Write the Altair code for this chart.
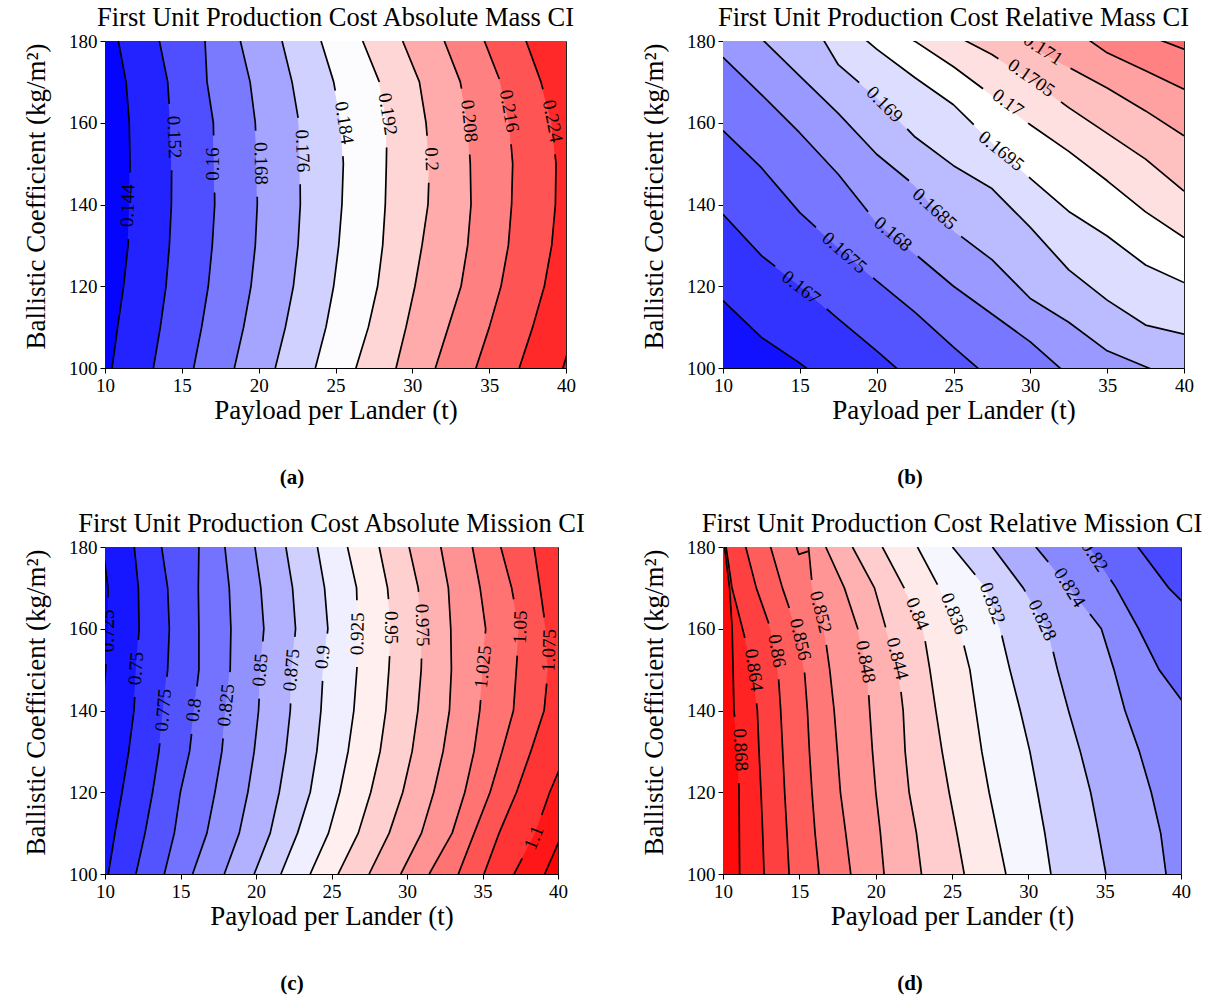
import math
import altair as alt
import pandas as pd

FONT = "Liberation Serif"
LABEL_FS = 19

ROWS = [180, 170, 160, 150, 140, 130, 120, 110, 100]
B_COLS = [10, 12.5, 15, 17.5, 20, 22.5, 25, 27.5, 30, 32.5, 35, 37.5, 40]

X_TITLE = "Payload per Lander (t)"
Y_TITLE = "Ballistic Coefficient (kg/m²)"

# ---------------- (a) ----------------
A_TITLE = "First Unit Production Cost Absolute Mass CI"
A_LEVELS = [0.144, 0.152, 0.16, 0.168, 0.176, 0.184, 0.192, 0.2, 0.208, 0.216, 0.224, 0.232]
A_X = [
    [10.87, 11.37, 11.58, 11.63, 11.61, 11.50, 11.21, 10.82, 10.46],
    [13.54, 14.08, 14.25, 14.34, 14.32, 14.19, 13.97, 13.60, 13.15],
    [16.51, 16.64, 17.05, 17.11, 17.14, 16.98, 16.72, 16.29, 15.77],
    [18.81, 19.44, 19.78, 19.89, 19.91, 19.78, 19.50, 19.02, 18.42],
    [21.52, 22.17, 22.62, 22.69, 22.71, 22.56, 22.26, 21.74, 21.08],
    [24.06, 24.88, 25.36, 25.51, 25.42, 25.21, 24.88, 24.38, 23.69],
    [26.77, 27.85, 28.35, 28.31, 28.24, 28.07, 27.74, 27.14, 26.33],
    [29.37, 30.46, 30.89, 31.11, 31.02, 30.63, 30.17, 29.59, 28.94],
    [32.08, 33.12, 33.60, 33.77, 33.82, 33.60, 33.17, 32.34, 31.50],
    [34.69, 35.73, 36.31, 36.53, 36.46, 36.25, 35.77, 35.01, 34.14],
    [37.40, 38.37, 39.07, 39.35, 39.31, 39.07, 38.59, 37.83, 36.96],
    [43.0, 43.0, 43.0, 43.0, 43.0, 42.5, 42.0, 40.6, 39.8],
]
A_LABELS = [
    ("0.144", 11.48, 139.7, 272), ("0.152", 14.51, 156.5, 88), ("0.16", 17.01, 149.9, 270),
    ("0.168", 20.15, 150.0, 89), ("0.176", 22.86, 153.1, 88), ("0.184", 25.57, 160.0, 81),
    ("0.192", 28.40, 162.1, 81), ("0.2", 31.26, 151.1, 88), ("0.208", 33.71, 160.4, 84),
    ("0.216", 36.31, 162.9, 80), ("0.224", 39.13, 160.4, 79),
]
A_COLOR = [0.1415, 0.1885, 0.2355]
A_EDGES = [0.1425, 0.2328]

# ---------------- (b) ----------------
B_TITLE = "First Unit Production Cost Relative Mass CI"
B_LEVELS = [0.1665, 0.167, 0.1675, 0.168, 0.1685, 0.169, 0.1695, 0.17, 0.1705, 0.171, 0.1715, 0.172]
B_Y = [
    [116.5, 107.5, 101.2, 94.0, 87.0, 80.0, 73.0, 66.0, 59.0, 52.0, 45.0, 38.0, 31.0],
    [137.6, 127.5, 120.1, 112.0, 104.2, 96.0, 88.0, 80.0, 72.0, 64.0, 56.0, 48.0, 40.0],
    [158.1, 149.0, 138.0, 129.5, 121.3, 113.6, 105.1, 97.0, 89.0, 81.0, 73.0, 65.0, 57.0],
    [176.0, 166.9, 157.5, 147.4, 135.6, 127.9, 120.0, 113.2, 106.4, 98.1, 90.0, 82.0, 74.0],
    [192.0, 180.6, 171.4, 162.3, 152.3, 144.6, 133.6, 126.5, 117.0, 111.2, 104.2, 100.3, 96.5],
    [210.0, 200.0, 190.0, 174.2, 166.2, 156.5, 149.5, 143.9, 134.4, 124.0, 116.6, 110.5, 108.3],
    [215.0, 205.0, 195.0, 186.0, 178.0, 171.0, 164.4, 155.2, 146.4, 138.3, 132.3, 125.2, 120.9],
    [225.0, 215.0, 205.0, 191.0, 185.0, 179.9, 173.7, 166.7, 159.5, 153.0, 145.8, 138.2, 131.9],
    [235.0, 225.0, 215.0, 205.0, 195.0, 188.0, 181.6, 176.7, 170.6, 163.7, 157.4, 151.1, 143.3],
    [245.0, 235.0, 225.0, 215.0, 205.0, 198.0, 192.6, 186.9, 178.8, 173.6, 168.5, 162.9, 156.8],
    [255.0, 245.0, 235.0, 225.0, 215.0, 205.0, 198.0, 193.0, 189.0, 183.7, 177.1, 172.7, 168.2],
    [265.0, 255.0, 245.0, 235.0, 225.0, 215.0, 205.0, 198.0, 193.0, 189.5, 186.0, 181.6, 178.0],
]
B_LABELS = [
    ("0.167", 15.08, 119.7, 37.5), ("0.1675", 17.90, 128.2, 41), ("0.168", 21.06, 132.8, 40),
    ("0.1685", 23.77, 138.9, 42), ("0.169", 20.51, 164.5, 45), ("0.1695", 28.11, 153.1, 39),
    ("0.17", 28.55, 164.9, 36), ("0.1705", 30.07, 171.0, 35), ("0.171", 30.83, 178.0, 33),
]
B_COLOR = [0.1660, 0.16975, 0.1738]
B_EDGES = [0.16625, 0.17215]

# ---------------- (c) ----------------
C_TITLE = "First Unit Production Cost Absolute Mission CI"
C_LEVELS = [0.725, 0.75, 0.775, 0.8, 0.825, 0.85, 0.875, 0.9, 0.925, 0.95, 0.975,
            1.0, 1.025, 1.05, 1.075, 1.1, 1.125]
C_X = [
    [9.85, 10.2, 10.22, 10.04, 9.8, 9.6, 9.4, 9.2, 9.0],
    [11.94, 12.21, 12.26, 12.07, 11.92, 11.57, 11.13, 10.66, 10.22],
    [13.75, 14.15, 14.26, 14.15, 13.86, 13.57, 13.15, 12.65, 12.05],
    [16.22, 16.18, 16.22, 16.22, 15.91, 15.60, 14.99, 14.59, 13.93],
    [17.94, 18.23, 18.34, 18.29, 17.99, 17.74, 17.28, 16.75, 15.80],
    [19.93, 20.32, 20.52, 20.30, 20.17, 19.88, 19.46, 18.89, 17.90],
    [21.98, 22.42, 22.62, 22.38, 22.27, 21.98, 21.54, 20.94, 19.88],
    [24.07, 24.54, 24.76, 24.45, 24.30, 24.03, 23.59, 22.75, 21.65],
    [26.06, 26.66, 26.74, 26.68, 26.48, 26.10, 25.55, 24.80, 23.59],
    [28.16, 28.71, 28.95, 28.80, 28.60, 28.22, 27.60, 26.77, 25.44],
    [30.14, 30.74, 31.02, 30.94, 30.72, 30.34, 29.72, 28.82, 27.49],
    [32.24, 32.74, 32.90, 32.94, 32.81, 32.39, 31.77, 30.96, 29.59],
    [34.33, 34.84, 35.21, 35.04, 34.82, 34.44, 33.83, 32.99, 31.47],
    [36.21, 36.93, 37.42, 37.24, 37.05, 36.30, 35.50, 34.45, 33.40],
    [38.41, 38.81, 39.19, 39.34, 39.08, 38.20, 37.25, 36.10, 35.10],
    [42.5, 42.3, 42.1, 41.8, 41.3, 40.6, 39.45, 38.5, 37.09],
    [44.0, 44.0, 44.0, 44.0, 43.5, 43.0, 42.0, 40.3, 39.12],
]
C_LABELS = [
    ("0.725", 10.22, 159.5, 270), ("0.75", 12.05, 150.3, 274), ("0.775", 13.86, 140.1, 275),
    ("0.8", 15.87, 140.1, 277), ("0.825", 18.01, 141.3, 276), ("0.85", 20.28, 149.9, 275),
    ("0.875", 22.35, 149.9, 275), ("0.9", 24.41, 153.1, 276), ("0.925", 26.72, 158.8, 271),
    ("0.95", 28.97, 160.3, 90), ("0.975", 31.02, 160.9, 88), ("1.025", 35.04, 150.7, 276),
    ("1.05", 37.50, 160.4, 272), ("1.075", 39.41, 154.7, 272), ("1.1", 38.41, 108.9, 292),
]
C_COLOR = [0.72, 0.925, 1.13]
C_EDGES = [0.7225, 1.128]

# ---------------- (d) ----------------
D_TITLE = "First Unit Production Cost Relative Mission CI"
D_LEVELS = [0.868, 0.864, 0.86, 0.856, 0.852, 0.848, 0.844, 0.84, 0.836, 0.832,
            0.828, 0.824, 0.82, 0.816]
D_X = [
    [10.10, 10.43, 10.60, 10.66, 10.72, 11.00, 11.05, 11.07, 11.09],
    [10.20, 10.59, 11.28, 11.95, 12.25, 12.36, 12.49, 12.60, 12.69],
    [11.49, 12.18, 13.12, 13.60, 13.78, 13.91, 14.04, 14.19, 14.33],
    [13.12, 13.89, 14.81, 15.33, 15.53, 15.66, 15.83, 16.03, 16.29],
    [15.60, 15.86, 16.62, 16.99, 17.28, 17.49, 17.69, 18.04, 18.37],
    [16.73, 17.95, 18.83, 19.44, 19.61, 19.79, 20.01, 20.31, 20.55],
    [18.48, 19.92, 20.68, 21.49, 21.80, 21.93, 22.19, 22.67, 23.00],
    [20.44, 21.86, 23.11, 23.55, 23.94, 24.35, 24.81, 25.32, 25.80],
    [22.74, 24.16, 25.51, 26.17, 26.56, 26.95, 27.43, 27.98, 28.53],
    [25.03, 27.22, 28.16, 28.79, 29.47, 30.10, 30.60, 31.08, 31.48],
    [27.65, 29.66, 31.26, 31.91, 32.63, 33.40, 34.08, 34.60, 35.08],
    [30.49, 32.72, 34.78, 35.61, 36.33, 37.27, 38.05, 38.67, 39.02],
    [34.01, 35.74, 37.22, 38.56, 40.54, 42.0, 43.5, 45.0, 46.5],
    [37.18, 39.19, 41.86, 44.0, 46.0, 48.0, 50.0, 52.0, 54.0],
]
D_ZIG_X = [14.81, 14.96, 15.61]
D_ZIG_Y = [180.0, 178.2, 179.0]
D_LABELS = [
    ("0.868", 11.15, 130.4, 87), ("0.864", 12.03, 149.9, 82), ("0.86", 13.54, 154.6, 80),
    ("0.856", 15.07, 157.4, 77), ("0.852", 16.40, 164.1, 76), ("0.848", 19.35, 151.9, 80),
    ("0.844", 21.43, 152.7, 76), ("0.84", 22.74, 163.7, 68), ("0.836", 25.14, 163.7, 68),
    ("0.832", 27.65, 166.2, 70), ("0.828", 30.93, 162.1, 65), ("0.824", 32.70, 170.1, 58),
    ("0.82", 34.34, 177.8, 57),
]
D_COLOR = [0.807, 0.835, 0.871]
D_EDGES = [0.8695, 0.815]

CAPTIONS = ["(a)", "(b)", "(c)", "(d)"]


def label_len_px(t):
    return LABEL_FS * (0.5 * sum(c.isdigit() for c in t) + 0.25 * t.count("."))


def cut_polyline(pts, cx, cy, r):
    """Remove the part of a pixel polyline that lies within radius r of (cx, cy)."""
    out, cur = [], []

    def push(p):
        if not cur or abs(cur[-1][0] - p[0]) > 1e-9 or abs(cur[-1][1] - p[1]) > 1e-9:
            cur.append(p)

    for i in range(len(pts) - 1):
        P, Q = pts[i], pts[i + 1]
        dx, dy = Q[0] - P[0], Q[1] - P[1]
        fx, fy = P[0] - cx, P[1] - cy
        a = dx * dx + dy * dy
        b = 2 * (fx * dx + fy * dy)
        c = fx * fx + fy * fy - r * r
        disc = b * b - 4 * a * c
        if a == 0 or disc <= 0:
            intervals = [(0.0, 1.0)]
        else:
            s = math.sqrt(disc)
            t1, t2 = (-b - s) / (2 * a), (-b + s) / (2 * a)
            intervals = []
            if t1 > 0:
                intervals.append((0.0, min(t1, 1.0)))
            if t2 < 1:
                intervals.append((max(t2, 0.0), 1.0))
        for ta, tb in intervals:
            if ta > 0 and cur:
                out.append(cur)
                cur = []
            push((P[0] + ta * dx, P[1] + ta * dy))
            push((P[0] + tb * dx, P[1] + tb * dy))
            if tb < 1:
                out.append(cur)
                cur = []
    if cur:
        out.append(cur)
    return [s for s in out if len(s) >= 2]


def panel(kind, levels, lines, labels, cdom, edges, extras, W, H, title, cap):
    sx, sy = W / 30.0, H / 80.0

    def to_px(x, y):
        return ((x - 10) * sx, (180 - y) * sy)

    def from_px(px, py):
        return (10 + px / sx, 180 - py / sy)

    n = len(ROWS) if kind == "rows" else len(B_COLS)
    if kind == "rows":
        low, high = [-10.0] * n, [70.0] * n
    else:
        low, high = [0.0] * n, [300.0] * n
    bounds = [low] + [list(l) for l in lines] + [high]
    vals = [edges[0]] + [(levels[k - 1] + levels[k]) / 2 for k in range(1, len(levels))] + [edges[1]]
    band_recs = []
    for b in range(len(bounds) - 1):
        for j in range(n):
            rec = {"band": b, "a": bounds[b][j], "a2": bounds[b + 1][j], "val": vals[b]}
            if kind == "rows":
                rec["y"] = ROWS[j]
            else:
                rec["x"] = B_COLS[j]
            band_recs.append(rec)

    line_recs = []
    for i, lev in enumerate(levels):
        if kind == "rows":
            pts = list(zip(lines[i], ROWS))
        else:
            pts = list(zip(B_COLS, lines[i]))
        segs = [[to_px(x, y) for x, y in pts]]
        for (t, lx, ly, ang) in labels:
            if abs(float(t) - lev) < 1e-9:
                cx, cy = to_px(lx, ly)
                r = label_len_px(t) / 2 + 12
                new = []
                for s in segs:
                    new += cut_polyline(s, cx, cy, r)
                segs = new
        for k, s in enumerate(segs):
            for o, (px, py) in enumerate(s):
                x, y = from_px(px, py)
                line_recs.append({"seg": f"{i}-{k}", "x": x, "y": y, "ord": o})
    for e, (ex, ey) in enumerate(extras):
        for o, (x, y) in enumerate(zip(ex, ey)):
            line_recs.append({"seg": f"e{e}", "x": x, "y": y, "ord": o})

    lab_recs = [{"t": t, "x": x, "y": y, "ang": a} for (t, x, y, a) in labels]

    xs = alt.Scale(domain=[10, 40], nice=False, zero=False)
    ys = alt.Scale(domain=[100, 180], nice=False, zero=False)
    xaxis = alt.Axis(values=[10, 15, 20, 25, 30, 35, 40], title=X_TITLE, format="d")
    yaxis = alt.Axis(values=[100, 120, 140, 160, 180], title=None, format="d")
    cscale = alt.Scale(domain=cdom, range=["#0000ff", "#ffffff", "#ff0000"],
                       interpolate="rgb", clamp=True)

    bdf = pd.DataFrame(band_recs)
    if kind == "rows":
        bands = alt.Chart(bdf).mark_area(orient="horizontal", clip=True, strokeWidth=1).encode(
            y=alt.Y("y:Q", scale=ys, axis=yaxis),
            x=alt.X("a:Q", scale=xs, axis=xaxis, stack=None),
            x2="a2:Q",
            color=alt.Color("val:Q", scale=cscale, legend=None),
            stroke=alt.Stroke("val:Q", scale=cscale, legend=None),
            detail="band:N",
        )
    else:
        bands = alt.Chart(bdf).mark_area(orient="vertical", clip=True, strokeWidth=1).encode(
            x=alt.X("x:Q", scale=xs, axis=xaxis),
            y=alt.Y("a:Q", scale=ys, axis=yaxis, stack=None),
            y2="a2:Q",
            color=alt.Color("val:Q", scale=cscale, legend=None),
            stroke=alt.Stroke("val:Q", scale=cscale, legend=None),
            detail="band:N",
        )

    lines_ch = alt.Chart(pd.DataFrame(line_recs)).mark_line(
        clip=True, color="black", strokeWidth=1.7, strokeJoin="round"
    ).encode(
        x=alt.X("x:Q", scale=xs, axis=xaxis),
        y=alt.Y("y:Q", scale=ys, axis=yaxis),
        detail="seg:N",
        order="ord:Q",
    )

    labels_ch = alt.Chart(pd.DataFrame(lab_recs)).mark_text(
        clip=True, font=FONT, fontSize=LABEL_FS, color="black", align="center", baseline="middle"
    ).encode(
        x=alt.X("x:Q", scale=xs, axis=xaxis),
        y=alt.Y("y:Q", scale=ys, axis=yaxis),
        text="t:N",
        angle=alt.Angle("ang:Q", scale=None),
    )

    txt = pd.DataFrame({"title": [title], "ytitle": [Y_TITLE], "cap": [cap]})
    title_ch = alt.Chart(txt).mark_text(
        font=FONT, fontSize=26.5, color="black", align="center", baseline="alphabetic"
    ).encode(text="title:N", x=alt.value(W / 2), y=alt.value(-15))
    ytitle_ch = alt.Chart(txt).mark_text(
        font=FONT, fontSize=27, color="black", align="center", baseline="alphabetic", angle=270
    ).encode(text="ytitle:N", x=alt.value(-60), y=alt.value(H / 2 - 8))
    cap_ch = alt.Chart(txt).mark_text(
        font=FONT, fontSize=21, fontWeight="bold", color="black", align="center", baseline="middle"
    ).encode(text="cap:N", x=alt.value(187), y=alt.value(H + 110))

    return alt.layer(bands, lines_ch, labels_ch, title_ch, ytitle_ch, cap_ch).properties(
        width=W, height=H
    ).resolve_scale(color="shared", stroke="shared")


pa = panel("rows", A_LEVELS, A_X, A_LABELS, A_COLOR, A_EDGES, [], 461, 327, A_TITLE, CAPTIONS[0])
pb = panel("cols", B_LEVELS, B_Y, B_LABELS, B_COLOR, B_EDGES, [], 461, 327, B_TITLE, CAPTIONS[1])
pc = panel("rows", C_LEVELS, C_X, C_LABELS, C_COLOR, C_EDGES, [], 453, 327, C_TITLE, CAPTIONS[2])
pd_ = panel("rows", D_LEVELS, D_X, D_LABELS, D_COLOR, D_EDGES, [(D_ZIG_X, D_ZIG_Y)], 458, 327,
            D_TITLE, CAPTIONS[3])

chart = alt.concat(
    pa, pb, pc, pd_, columns=2, bounds="flush",
    spacing={"row": 179, "column": 157},
).resolve_scale(
    color="independent", stroke="independent"
).properties(
    padding={"left": 22, "top": 4, "right": 5, "bottom": 2},
    background="white",
).configure_view(
    stroke="#222222", strokeWidth=1
).configure_axis(
    labelFont=FONT, titleFont=FONT, labelFontSize=19, titleFontSize=27,
    titleFontWeight="normal", labelColor="black", titleColor="black",
    tickColor="black", domainColor="black", grid=False, tickSize=5,
    labelPadding=3, labelFlush=False, labelOverlap=False, tickWidth=1, domainWidth=1,
).configure_axisX(
    titlePadding=2
)

chart.save("out.html", embed_options={"renderer": "svg", "actions": False})
